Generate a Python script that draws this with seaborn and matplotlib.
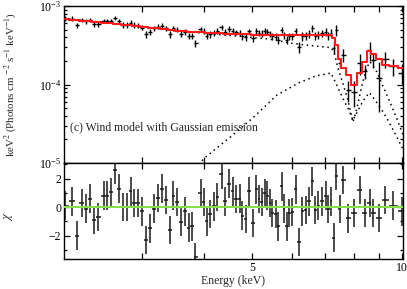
import numpy as np
import pandas as pd
import matplotlib
matplotlib.use("Agg")
import matplotlib.pyplot as plt
import seaborn as sns
from matplotlib.ticker import FixedLocator, NullLocator, FuncFormatter, LogLocator, MultipleLocator

# bin centres (keV)
energy = [2.10, 2.17, 2.22, 2.27, 2.31, 2.36, 2.40, 2.45, 2.51, 2.55, 2.60, 2.65, 2.70,
          2.75, 2.80, 2.85, 2.89, 2.95, 3.00, 3.05, 3.11, 3.17, 3.23, 3.29, 3.35, 3.41, 3.47,
          3.53, 3.60, 3.66, 3.73, 3.78, 3.84,
          3.94, 4.00, 4.05, 4.11, 4.19, 4.25, 4.34, 4.41, 4.49, 4.57, 4.63, 4.72, 4.77, 4.85,
          4.92, 5.02, 5.09, 5.16,
          5.22, 5.30, 5.36, 5.42, 5.48, 5.57, 5.64, 5.73, 5.79, 5.86, 5.94, 6.02, 6.11,
          6.21, 6.30, 6.40, 6.50, 6.60, 6.70, 6.78, 6.89, 7.02, 7.11, 7.19,
          7.30, 7.37, 7.49, 7.61, 7.80, 8.00, 8.23, 8.42, 8.62, 8.75, 8.98, 9.26, 9.60, 10.0]

# keV^2 flux, units of 1e-4
flux = [6.90, 6.91, 5.69, 6.67, 6.40, 6.65, 5.90, 5.92, 6.48, 6.41, 6.44, 7.01, 6.39,
        5.78, 5.72, 6.15, 5.72, 5.64, 5.32, 4.39, 4.67, 5.20, 5.44, 5.64, 5.24, 4.34, 5.23,
        5.00, 4.40, 4.65, 4.18, 4.20, 3.37,
        5.06, 4.76, 4.18, 4.36, 4.56, 4.80, 5.41, 4.62, 5.09, 4.84, 4.60, 4.58, 4.12, 4.01,
        4.77, 3.90, 4.81, 4.53,
        4.46, 4.74, 4.64, 4.43, 4.12, 4.08, 3.70, 4.90, 4.23, 3.69, 4.09, 4.11, 4.78,
        3.00, 4.10, 4.16, 4.46, 5.19, 4.18, 4.33, 4.50, 4.70, 4.22, 4.51,
        2.96, 5.00, 1.90, 2.40, 0.85, 0.81, 1.88, 1.47, 2.77, 2.07, 1.20, 2.13, 1.70, 1.41]

flux_err = [0.48, 0.47, 0.46, 0.46, 0.45, 0.45, 0.44, 0.44, 0.43, 0.42, 0.42, 0.42, 0.41,
            0.46, 0.46, 0.45, 0.45, 0.44, 0.44, 0.43, 0.42, 0.42, 0.41, 0.41, 0.40, 0.40, 0.39,
            0.39, 0.38, 0.38, 0.38, 0.38, 0.37,
            0.42, 0.41, 0.41, 0.41, 0.41, 0.41, 0.40, 0.40, 0.40, 0.40, 0.39, 0.39, 0.39, 0.39,
            0.39, 0.39, 0.39, 0.39,
            0.43, 0.43, 0.43, 0.43, 0.43, 0.43, 0.43, 0.43, 0.43, 0.43, 0.43, 0.43, 0.43,
            0.51, 0.51, 0.51, 0.51, 0.51, 0.51, 0.51, 0.51, 0.51, 0.51, 0.51,
            0.50, 0.80, 0.30, 0.45, 0.25, 0.30, 0.55, 0.30, 0.75, 0.45, 0.75, 0.50, 0.40, 0.40]

# folded model, same bins (1e-4)
model = [6.85, 6.72, 6.62, 6.53, 6.45, 6.38, 6.30, 6.22, 6.14, 6.07, 6.00, 5.93, 5.86,
         5.78, 5.72, 5.65, 5.59, 5.51, 5.45, 5.38, 5.31, 5.24, 5.17, 5.11, 5.04, 4.98, 4.92,
         4.86, 4.80, 4.76, 4.73, 4.71, 4.68,
         4.64, 4.61, 4.59, 4.57, 4.54, 4.52, 4.48, 4.46, 4.43, 4.40, 4.38, 4.35, 4.35, 4.34,
         4.34, 4.33, 4.32, 4.32,
         4.31, 4.31, 4.30, 4.30, 4.29, 4.29, 4.28, 4.28, 4.27, 4.27, 4.26, 4.26, 4.25,
         4.25, 4.25, 4.26, 4.26, 4.27, 4.28, 4.28, 4.29, 4.29, 4.30, 4.30,
         3.90, 3.20, 2.13, 1.63, 1.31, 1.00, 1.41, 1.94, 2.64, 2.45, 2.13, 1.79, 1.70, 1.63]

chi = [0.1, 0.4, -2.0, 0.3, -0.1, 0.6, -0.9, -0.7, 0.8, 0.8, 1.05, 2.6, 1.3,
       0.0, 0.0, 1.1, 0.3, 0.3, -0.3, -2.3, -1.5, -0.1, 0.65, 1.3, 0.5, -1.6, 0.8,
       0.35, -1.05, -0.3, -1.45, -1.35, -3.5,
       1.0, 0.35, -1.0, -0.5, 0.05, 0.7, 2.3, 0.4, 1.65, 1.1, 0.55, 0.6, -0.6, -0.85,
       1.1, -1.1, 1.25, 0.55,
       0.35, 1.0, 0.8, 0.3, -0.4, -0.5, -1.35, 1.45, -0.1, -1.35, -0.4, -0.35, 1.25,
       -2.45, -0.3, -0.2, 0.4, 1.8, -0.2, 0.1, 0.4, 0.8, -0.15, 0.4,
       -2.15, 2.2, -0.15, 1.9, -0.8, -0.4, 1.2, -0.4, 0.3, -0.4, -0.75, 0.5, 0.1, -0.3]

# model components (dotted)
cont_e = [2.09, 2.5, 3.0, 3.5, 4.0, 4.5, 5.0, 5.4, 6.0, 6.5, 7.0, 7.2, 7.3, 7.42, 7.6,
          7.78, 7.97, 8.12, 8.3, 8.5, 8.63, 8.9, 9.16, 9.47, 9.78, 10.1]
cont_v = [6.85, 6.2, 5.45, 4.9, 4.5, 4.22, 3.97, 3.8, 3.35, 3.15, 3.0, 2.95, 2.6, 1.7, 1.05,
          0.65, 0.33, 0.5, 0.95, 1.65, 1.95, 1.45, 0.95, 0.59, 0.36, 0.21]
refl_e = [3.9, 4.0, 4.5, 5.0, 5.6, 6.2, 6.7, 7.2, 7.43, 7.65, 7.85, 7.97, 8.15, 8.35, 8.6,
          8.85, 9.1, 9.4, 9.75, 10.1]
refl_v = [0.095, 0.115, 0.21, 0.37, 0.73, 1.05, 1.28, 1.40, 0.92, 0.62, 0.45, 0.35, 0.46,
          0.62, 0.79, 0.62, 0.48, 0.34, 0.22, 0.14]

sns.set_theme(style="ticks")
plt.rcParams["font.family"] = ["Liberation Serif", "DejaVu Serif"]
plt.rcParams["mathtext.fontset"] = "stix"

E = np.array(energy)
mid = np.sqrt(E[1:] * E[:-1])
lo = np.concatenate([[E[0] ** 2 / mid[0]], mid])
hi = np.concatenate([mid, [E[-1] ** 2 / mid[-1]]])
xerr = [E - lo, hi - E]

df = pd.DataFrame({"energy": E, "flux": np.array(flux) * 1e-4,
                   "err": np.array(flux_err) * 1e-4,
                   "model": np.array(model) * 1e-4, "chi": chi})

fig = plt.figure(figsize=(4.07, 2.89), dpi=100)
W, H = 407, 289
ax1 = fig.add_axes([64 / W, 1 - 163 / H, 339 / W, 157 / H])
ax2 = fig.add_axes([64 / W, 1 - 259 / H, 339 / W, 96 / H], sharex=ax1)

ax1.errorbar(df.energy, df.flux, yerr=df.err, xerr=xerr, fmt="none",
             ecolor="black", elinewidth=1.0, capsize=0, zorder=2)
sns.lineplot(x=cont_e, y=np.array(cont_v) * 1e-4, ax=ax1, color="black",
             linestyle=(0, (1, 2.4)), lw=1.1, zorder=1)
sns.lineplot(x=refl_e, y=np.array(refl_v) * 1e-4, ax=ax1, color="black",
             linestyle=(0, (1, 2.4)), lw=1.1, zorder=1)
sns.lineplot(data=df, x="energy", y="model", ax=ax1, color="#ff1a1a", lw=1.5,
             drawstyle="steps-mid", estimator=None, zorder=3)

ax1.set_xscale("log")
ax1.set_yscale("log")
ax1.set_xlim(2.09, 10.05)
ax1.set_ylim(1e-5, 1e-3)
ax1.yaxis.set_major_locator(LogLocator(base=10))
ax1.yaxis.set_minor_locator(LogLocator(base=10, subs=np.arange(2, 10)))
ax1.set_ylabel(r"keV$^2$ (Photons cm $^{-2}$ s$^{-1}$ keV$^{-1}$)", fontsize=7.8)
ax1.yaxis.set_label_coords(-0.135, 0.5)
ax1.set_xlabel("")
ax1.text(0.018, 0.229, "(c) Wind model with Gaussian emission", transform=ax1.transAxes,
         fontsize=8.5, va="center", ha="left")

ax2.errorbar(df.energy, df.chi, yerr=1.0, xerr=xerr, fmt="none",
             ecolor="#1a1a1a", elinewidth=1.1, capsize=0, zorder=2)
ax2.axhline(0, color="#86e04a", lw=1.5, zorder=3)
ax2.set_ylim(-3.65, 3.1)
ax2.yaxis.set_major_locator(FixedLocator([-2, 0, 2]))
ax2.yaxis.set_minor_locator(MultipleLocator(1))
ax2.yaxis.set_major_formatter(FuncFormatter(lambda v, p: f"{v:.0f}".replace("-", "\u2212")))
ax2.set_ylabel(r"$\chi$", fontsize=9)
ax2.yaxis.set_label_coords(-0.145, 0.45)
ax2.set_xlabel("Energy (keV)", fontsize=8.5)
ax2.xaxis.set_label_coords(0.5, -0.17)

ax2.xaxis.set_major_locator(FixedLocator([3, 4, 5, 6, 7, 8, 9, 10]))
ax2.xaxis.set_minor_locator(NullLocator())
ax2.xaxis.set_major_formatter(FuncFormatter(lambda v, p: f"{v:.0f}" if v in (5, 10) else ""))

for ax in (ax1, ax2):
    ax.tick_params(which="both", direction="in", top=True, right=True, width=0.9,
                   labelsize=8.5, colors="black", pad=2)
    ax.tick_params(which="major", length=4)
    ax.tick_params(which="minor", length=2.2)
    for s in ax.spines.values():
        s.set_linewidth(1.0)
        s.set_color("black")
ax1.tick_params(labelbottom=False)

fig.savefig("out.png", dpi=100)
